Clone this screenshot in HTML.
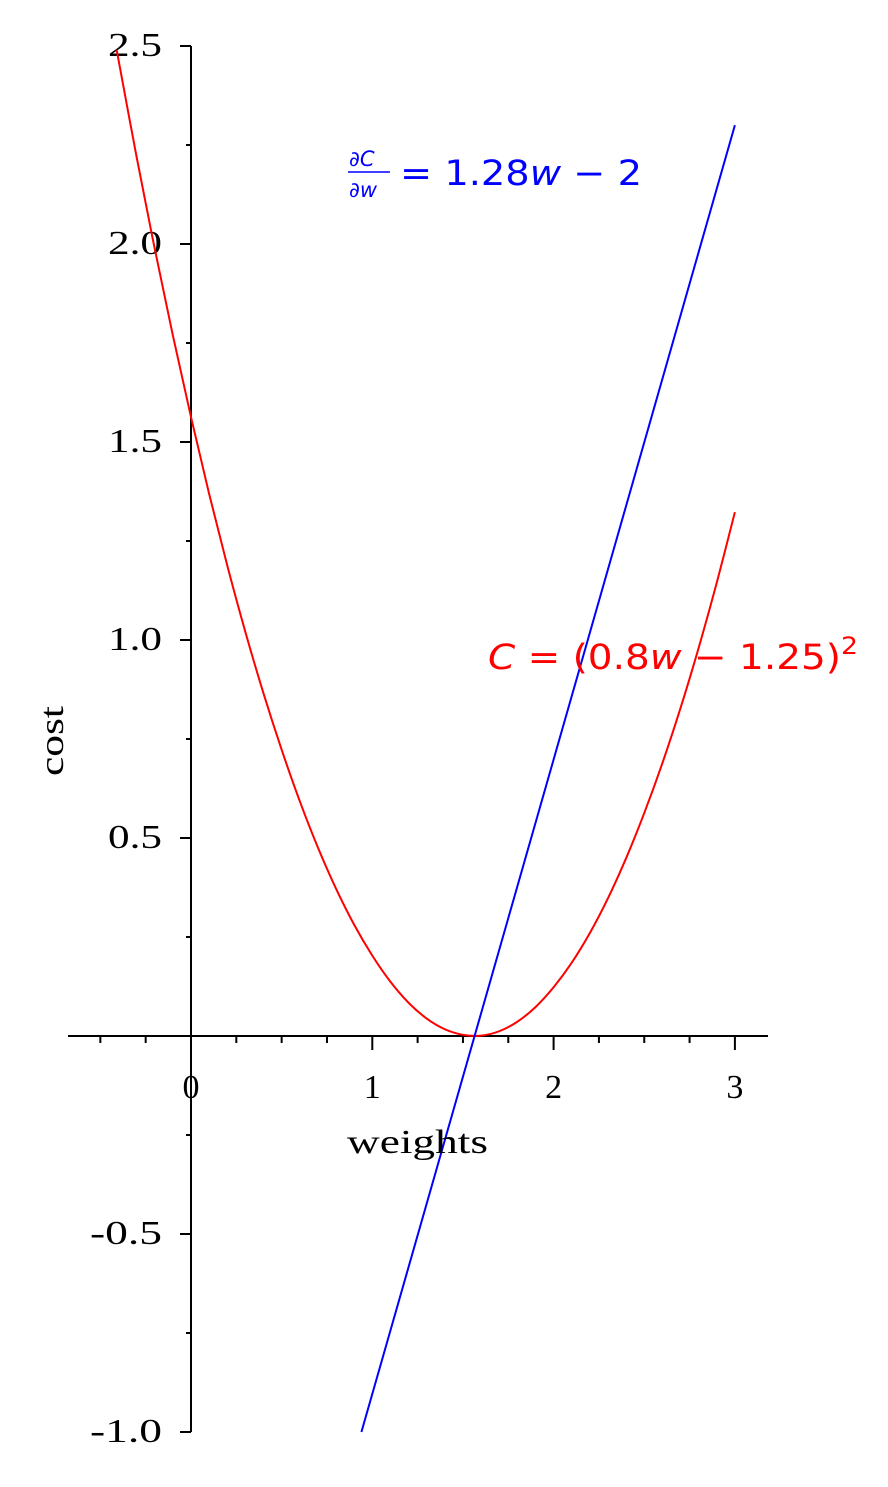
<!DOCTYPE html>
<html><head><meta charset="utf-8"><style>
html,body{margin:0;padding:0;background:#fff;}
svg{display:block;}
.tk{font-family:"Liberation Serif",serif;font-size:34px;fill:#000;}
</style></head><body>
<svg id="chart" width="888" height="1487" viewBox="0 0 888 1487" xmlns="http://www.w3.org/2000/svg">
<g id="axes"></g>
<g id="series"></g>
<text x="349" y="166" font-family="DejaVu Sans,sans-serif" font-size="21" fill="#00f" font-style="italic">∂C</text>
<line x1="348" y1="172" x2="390" y2="172" stroke="#00f" stroke-width="1.5"/>
<text x="349" y="197" font-family="DejaVu Sans,sans-serif" font-size="21" fill="#00f" font-style="italic">∂w</text>
<text x="400" y="185" font-family="DejaVu Sans,sans-serif" font-size="35" fill="#00f" textLength="242" lengthAdjust="spacingAndGlyphs">= 1.28<tspan font-style="italic">w</tspan> − 2</text>
<text x="488" y="669" font-family="DejaVu Sans,sans-serif" font-size="35" fill="#f00" textLength="370" lengthAdjust="spacingAndGlyphs"><tspan font-style="italic">C</tspan> = (0.8<tspan font-style="italic">w</tspan> − 1.25)<tspan font-size="24" dy="-15">2</tspan></text>
<text x="347" y="1153" class="tk" font-size="38" textLength="141" lengthAdjust="spacingAndGlyphs">weights</text>
<text transform="translate(63,776) rotate(-90)" class="tk" font-size="38" textLength="70" lengthAdjust="spacingAndGlyphs">cost</text>
</svg>
<script>
const xTicks=[0,1,2,3];
const yTicks=[-1.0,-0.5,0.5,1.0,1.5,2.0,2.5];
const yTickLabels=["-1.0","-0.5","0.5","1.0","1.5","2.0","2.5"];
const costW=[-0.41,-0.3,-0.2,-0.1,0,0.1,0.2,0.3,0.4,0.5,0.6,0.7,0.8,0.9,1.0,1.1,1.2,1.3,1.4,1.5,1.6,1.7,1.8,1.9,2.0,2.1,2.2,2.3,2.4,2.5,2.6,2.7,2.8,2.9,3.0];
const costC=[2.49,2.220,1.988,1.769,1.563,1.369,1.188,1.020,0.865,0.723,0.593,0.476,0.372,0.281,0.203,0.137,0.084,0.044,0.017,0.003,0.001,0.012,0.036,0.073,0.123,0.185,0.260,0.348,0.449,0.563,0.689,0.828,0.980,1.145,1.323];
const gradW=[0.94,3.0];
const gradV=[-1.0,2.3];
const NS="http://www.w3.org/2000/svg";
const sx=w=>191+w*181.3;
const sy=v=>1036-v*396;
function mk(t,a,p){const e=document.createElementNS(NS,t);for(const k in a)e.setAttribute(k,a[k]);p.appendChild(e);return e;}
const ax=document.getElementById('axes'), se=document.getElementById('series');
let e=mk('line',{x1:68,y1:sy(0),x2:768,y2:sy(0),stroke:'#000','stroke-width':2},ax);


e=mk('line',{x1:sx(0),y1:sy(2.5),x2:sx(0),y2:sy(-1),stroke:'#000','stroke-width':2},ax);


for(let w=-0.5;w<=3.01;w+=0.25){const maj=Math.abs(w-Math.round(w))<1e-6;
 e=mk('line',{x1:sx(w),y1:sy(0),x2:sx(w),y2:sy(0)+(maj?14:7),stroke:'#000','stroke-width':2},ax);
 
 }
for(let v=-1;v<=2.51;v+=0.25){const maj=Math.abs(v*2-Math.round(v*2))<1e-6;
 e=mk('line',{x1:sx(0),y1:sy(v),x2:sx(0)-(maj?11:5),y2:sy(v),stroke:'#000','stroke-width':2},ax);
 
 }
xTicks.forEach(t=>{e=mk('text',{x:sx(t),y:1098,'text-anchor':'middle',class:'tk'},ax);e.textContent=String(t);
 
 });
yTicks.forEach((t,i)=>{const s=yTickLabels[i];
 e=mk('text',{x:162,y:sy(t)+10,'text-anchor':'end',class:'tk',textLength:s.length*18,lengthAdjust:'spacingAndGlyphs'},ax);e.textContent=s;
 
 });
let d='';
for(let i=0;i<costW.length;i++){
 const x=sx(costW[i]),y=sy(costC[i]);
 if(i===0){d+='M'+x+','+y;continue;}
 const p0=costW[Math.max(i-2,0)],q0=costC[Math.max(i-2,0)];
 const p1=costW[i-1],q1=costC[i-1];
 const p3=costW[Math.min(i+1,costW.length-1)],q3=costC[Math.min(i+1,costW.length-1)];
 const c1x=sx(p1)+(sx(costW[i])-sx(p0))/6,c1y=sy(q1)+(sy(costC[i])-sy(q0))/6;
 const c2x=x-(sx(p3)-sx(p1))/6,c2y=y-(sy(q3)-sy(q1))/6;
 d+=' C'+c1x+','+c1y+' '+c2x+','+c2y+' '+x+','+y;
}
e=mk('path',{d:d,fill:'none',stroke:'#f00','stroke-width':2},se);


e=mk('polyline',{points:gradW.map((w,i)=>sx(w)+','+sy(gradV[i])).join(' '),fill:'none',stroke:'#00f','stroke-width':2},se);


</script>
</body></html>
